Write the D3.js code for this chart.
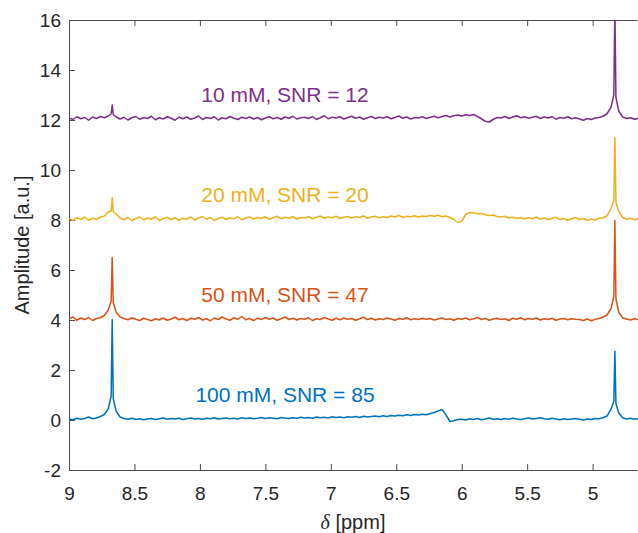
<!DOCTYPE html>
<html>
<head>
<meta charset="utf-8">
<script src="https://cdn.jsdelivr.net/npm/d3@7"></script>
<style>
  html, body { margin: 0; padding: 0; background: #fff; }
  svg { display: block; }
  text { font-family: "Liberation Sans", Arial, Helvetica, sans-serif; fill: #262626; }
</style>
</head>
<body>
<svg id="chart" width="638" height="533"></svg>
<script>
// Chemical-shift sampling grid (ppm), 0.03 ppm steps from 9.00 down to 4.65
const shifts = d3.range(0, 146).map(i => +(9 - 0.03 * i).toFixed(2));

const xTicks = [9, 8.5, 8, 7.5, 7, 6.5, 6, 5.5, 5];
const yTicks = [-2, 0, 2, 4, 6, 8, 10, 12, 14, 16];

const labels = ["100 mM, SNR = 85", "50 mM, SNR = 47", "20 mM, SNR = 20", "10 mM, SNR = 12"];
const labelY = [1, 5, 9, 13];
const colors = ["#0072BD", "#D95319", "#EDB120", "#7E2F8E"];

// Spectrum amplitudes (a.u.), one value per grid point
const amp100 = [
  0.04, 0.01, 0.07, 0.03, 0.06, 0.12, 0.05, 0.08, 0.14, 0.22,
  0.45, 4.02, 0.35, 0.12, 0.06, 0.03, 0.07, 0.02, 0.05, 0.01,
  0.04, 0.06, 0.02, 0.05, 0.08, 0.03, 0.06, 0.04, 0.07, 0.02,
  0.05, 0.08, 0.04, 0.06, 0.03, 0.07, 0.05, 0.09, 0.04, 0.06,
  0.08, 0.05, 0.07, 0.04, 0.09, 0.06, 0.08, 0.05, 0.07, 0.10,
  0.06, 0.09, 0.07, 0.05, 0.10, 0.08, 0.06, 0.09, 0.07, 0.11,
  0.08, 0.10, 0.07, 0.12, 0.09, 0.11, 0.08, 0.13, 0.10, 0.12,
  0.09, 0.13, 0.11, 0.14, 0.10, 0.15, 0.12, 0.14, 0.16, 0.13,
  0.17, 0.14, 0.18, 0.16, 0.19, 0.17, 0.21, 0.18, 0.22, 0.20,
  0.23, 0.21, 0.26, 0.30, 0.36, 0.42, 0.20, -0.06, -0.03, 0.02,
  0.03, 0.00, 0.05, 0.02, 0.06, 0.01, 0.04, 0.08, 0.03, 0.05,
  0.02, 0.06, 0.03, 0.07, 0.04, 0.02, 0.05, 0.08, 0.04, 0.06,
  0.09, 0.05, 0.03, 0.07, 0.04, 0.01, 0.05, 0.02, 0.04, 0.06,
  0.03, 0.00, 0.04, 0.02, 0.06, 0.05, 0.09, 0.16, 0.42, 2.75,
  0.28, 0.08, 0.04, 0.07, 0.03, 0.05
];

const amp50 = [
  4.05, 4.12, 3.99, 4.08, 4.02, 4.10, 3.98, 4.06, 4.09, 4.18,
  4.40, 6.50, 4.32, 4.12, 4.06, 4.01, 4.09, 4.03, 3.98, 4.07,
  4.02, 3.97, 4.05, 4.00, 4.08, 3.99, 4.04, 4.11, 4.01, 4.06,
  3.98, 4.07, 4.03, 4.10, 4.00, 4.05, 3.97, 4.08, 4.02, 4.12,
  4.04, 3.99, 4.09, 4.03, 4.14, 4.01, 4.06, 3.98, 4.07, 4.02,
  4.10, 4.03, 4.08, 3.99, 4.05, 4.12, 4.02, 4.07, 4.00, 4.06,
  4.03, 4.09, 3.98, 4.05, 4.02, 4.10, 4.04, 3.99, 4.07, 4.01,
  4.08, 4.03, 4.06, 3.99, 4.05, 4.11, 4.02, 4.07, 4.00, 4.05,
  4.02, 4.08, 4.04, 3.99, 4.06, 4.03, 4.09, 4.01, 4.05, 4.02,
  4.07, 4.03, 4.06, 4.00, 4.04, 4.08, 4.02, 4.05, 3.99, 4.06,
  4.03, 4.08, 4.01, 4.05, 4.10, 4.02, 4.06, 3.99, 4.04, 4.07,
  4.02, 4.05, 3.98, 4.07, 4.03, 4.09, 4.01, 4.06, 4.03, 4.08,
  4.00, 4.05, 4.02, 4.07, 3.99, 4.04, 4.06, 4.01, 4.05, 4.03,
  4.02, 3.98, 4.04, 3.97, 4.03, 4.06, 4.12, 4.20, 4.45, 7.98,
  4.30, 4.08, 4.04, 4.00, 4.05, 4.02
];

const amp20 = [
  8.06, 7.98, 8.10, 8.02, 8.12, 7.99, 8.07, 8.03, 8.11, 8.16,
  8.32, 8.90, 8.24, 8.08, 8.01, 8.10, 7.97, 8.06, 8.12, 8.00,
  8.08, 8.03, 8.13, 7.98, 8.06, 8.11, 8.02, 8.09, 7.99, 8.07,
  8.04, 8.12, 8.00, 8.08, 8.14, 8.03, 8.10, 7.98, 8.06, 8.11,
  8.02, 8.09, 8.05, 8.13, 8.01, 8.08, 8.12, 8.04, 8.10, 8.06,
  8.13, 8.03, 8.09, 8.15, 8.05, 8.11, 8.07, 8.14, 8.04, 8.10,
  8.08, 8.13, 8.05, 8.11, 8.16, 8.07, 8.12, 8.09, 8.15, 8.06,
  8.11, 8.14, 8.08, 8.13, 8.10, 8.16, 8.07, 8.12, 8.15, 8.09,
  8.13, 8.10, 8.16, 8.12, 8.18, 8.11, 8.15, 8.13, 8.17, 8.12,
  8.16, 8.14, 8.18, 8.15, 8.19, 8.13, 8.16, 8.10, 8.02, 7.90,
  7.95, 8.22, 8.30, 8.28, 8.25, 8.26, 8.21, 8.18, 8.20, 8.14,
  8.12, 8.15, 8.08, 8.11, 8.06, 8.10, 8.04, 8.09, 8.05, 8.12,
  8.03, 8.08, 8.01, 8.07, 8.11, 8.02, 8.06, 7.99, 8.05, 8.09,
  8.01, 8.06, 7.98, 8.04, 8.00, 8.07, 8.09, 8.17, 8.45, 11.30,
  8.35, 8.10, 8.03, 8.07, 8.01, 8.05
];

const amp10 = [
  12.08, 12.02, 12.13, 12.05, 12.10, 11.99, 12.12, 12.06, 12.14, 12.09,
  12.16, 12.60, 12.12, 12.04, 12.11, 12.00, 12.09, 12.14, 12.03, 12.10,
  12.06, 12.15, 12.01, 12.09, 12.04, 12.13, 12.07, 11.99, 12.11, 12.05,
  12.12, 12.03, 12.08, 12.16, 12.02, 12.10, 12.06, 12.13, 12.00, 12.09,
  12.05, 12.14, 12.07, 12.02, 12.11, 12.06, 12.12, 12.04, 12.10, 12.01,
  12.08, 12.13, 12.05, 12.10, 12.03, 12.12, 12.07, 12.15, 12.04, 12.09,
  12.11, 12.06, 12.14, 12.02, 12.09, 12.17, 12.05, 12.11, 12.08, 12.13,
  12.04, 12.10, 12.15, 12.07, 12.12, 12.03, 12.09, 12.14, 12.06, 12.11,
  12.08, 12.13, 12.05, 12.10, 12.16, 12.07, 12.12, 12.04, 12.10, 12.08,
  12.13, 12.06, 12.11, 12.15, 12.09, 12.14, 12.18, 12.12, 12.17, 12.20,
  12.16, 12.21, 12.18, 12.22, 12.14, 12.05, 11.95, 11.92, 12.02, 12.10,
  12.08, 12.14, 12.06, 12.12, 12.17, 12.09, 12.13, 12.07, 12.11, 12.15,
  12.06, 12.12, 12.08, 12.14, 12.03, 12.10, 12.07, 12.13, 12.05, 12.09,
  12.04, 11.99, 12.06, 12.02, 12.08, 12.10, 12.15, 12.25, 12.50, 16.60,
  12.35, 12.12, 12.06, 12.09, 12.03, 12.07
];

// Extra samples on the flanks of the two sharp resonances, [ppm, amplitude]
const flank100 = [[8.678, 0.95], [8.662, 0.85], [4.838, 0.75], [4.822, 0.65]];
const flank50 = [[8.678, 4.75], [8.662, 4.70], [4.838, 4.95], [4.822, 4.85]];
const flank20 = [[8.678, 8.35], [8.662, 8.32], [4.838, 8.80], [4.822, 8.70]];
const flank10 = [[8.678, 12.24], [8.662, 12.22], [4.838, 13.00], [4.822, 12.90]];

const series = [amp100, amp50, amp20, amp10];
const flanks = [flank100, flank50, flank20, flank10];

// Plot frame
const frame = { left: 69, right: 637, top: 20, bottom: 470 };
const svg = d3.select("#chart");

const x = d3.scaleLinear().domain([9, 4.661]).range([frame.left, frame.right]);
const y = d3.scaleLinear().domain([-2, 16]).range([frame.bottom, frame.top]);

svg.append("defs").append("clipPath").attr("id", "plotClip")
  .append("rect").attr("x", frame.left).attr("y", frame.top)
  .attr("width", frame.right - frame.left + 2).attr("height", frame.bottom - frame.top);

const fmt = d => String(d);
const axisColor = "#4d4d4d";

// Bottom axis with labels, ticks pointing inward
const gx = svg.append("g").attr("transform", `translate(0,${frame.bottom})`)
  .call(d3.axisBottom(x).tickValues(xTicks).tickFormat(fmt).tickSizeInner(-6).tickSizeOuter(0).tickPadding(17));
// Top axis, ticks only
const gxt = svg.append("g").attr("transform", `translate(0,${frame.top})`)
  .call(d3.axisTop(x).tickValues(xTicks).tickFormat("").tickSizeInner(-6).tickSizeOuter(0));
// Left axis with labels
const gy = svg.append("g").attr("transform", `translate(${frame.left},0)`)
  .call(d3.axisLeft(y).tickValues(yTicks).tickFormat(fmt).tickSizeInner(-6).tickSizeOuter(0).tickPadding(8));

[gx, gxt, gy].forEach(g => {
  g.selectAll(".domain").attr("stroke", axisColor).attr("stroke-width", 1);
  g.selectAll(".tick line").attr("stroke", axisColor).attr("stroke-width", 1);
  g.selectAll("text").attr("font-size", 19).attr("fill", "#262626")
    .attr("font-family", "'Liberation Sans', Arial, sans-serif");
});

// Spectra: grid samples merged with the flank samples, ordered by shift
const line = d3.line()
  .x(d => x(d[0]))
  .y(d => y(d[1]));

const plot = svg.append("g").attr("clip-path", "url(#plotClip)");
series.forEach((s, k) => {
  const pts = shifts.map((p, i) => [p, s[i]])
    .concat(flanks[k])
    .sort((a, b) => b[0] - a[0]);
  plot.append("path")
    .datum(pts)
    .attr("fill", "none")
    .attr("stroke", colors[k])
    .attr("stroke-width", 1.5)
    .attr("stroke-linejoin", "round")
    .attr("d", line);
});

// Concentration / SNR annotations
labels.forEach((t, k) => {
  svg.append("text")
    .attr("x", x(7.35))
    .attr("y", y(labelY[k]))
    .attr("dy", "0.35em")
    .attr("text-anchor", "middle")
    .attr("font-size", 21)
    .style("fill", colors[k])
    .text(t);
});

// Axis titles
svg.append("text")
  .attr("transform", `translate(22,${(frame.top + frame.bottom) / 2}) rotate(-90)`)
  .attr("text-anchor", "middle")
  .attr("dy", "0.35em")
  .attr("font-size", 20)
  .text("Amplitude [a.u.]");

const xt = svg.append("text")
  .attr("x", (frame.left + frame.right) / 2)
  .attr("y", 522)
  .attr("dy", "0.35em")
  .attr("text-anchor", "middle")
  .attr("font-size", 20);
xt.append("tspan").attr("font-family", "'Liberation Serif', serif").attr("font-style", "italic").text("δ");
xt.append("tspan").text(" [ppm]");
</script>
</body>
</html>
